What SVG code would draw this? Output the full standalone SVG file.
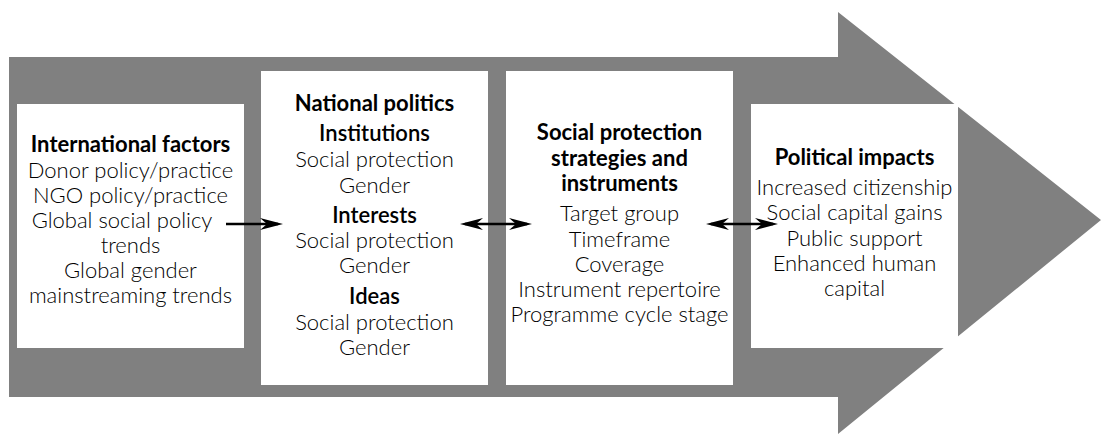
<svg xmlns="http://www.w3.org/2000/svg" width="1101" height="436" viewBox="0 0 1101 436">
<style>
  .bg { fill: #ffffff; }
  .big { fill: #808080; }
  .box { fill: #ffffff; }
  text { font-family: "Lato", "Open Sans", "Liberation Sans", sans-serif; font-size: 22px; text-anchor: middle; fill: #000; }
  .h { font-weight: bold; }
  .s { font-weight: 600; }
  .b { font-weight: 300; }
  .conn { stroke: #000; stroke-width: 2.5; fill: none; }
</style>
<defs>
  <marker id="ah" viewBox="-23 -6 23 12" refX="-5" refY="0" markerWidth="23" markerHeight="12" markerUnits="userSpaceOnUse" orient="auto-start-reverse">
    <path d="M0,0 L-23,-6 L-16,0 L-23,6 Z" fill="#000"/>
  </marker>
</defs>
<rect class="bg" x="0" y="0" width="1101" height="436"/>
<polygon class="big" points="9,57 838,57 838,12 1101,220 838,434 838,397 9,397"/>

<g id="international">
  <rect class="box" x="17" y="104" width="227" height="244"/>
  <text class="h" x="130.5" y="152">International factors</text>
  <text class="b" x="130.5" y="178">Donor policy/practice</text>
  <text class="b" x="130.5" y="203">NGO policy/practice</text>
  <text class="b" x="122" y="228">Global social policy</text>
  <text class="b" x="130.5" y="253">trends</text>
  <text class="b" x="130.5" y="278">Global gender</text>
  <text class="b" x="130.5" y="303">mainstreaming trends</text>
</g>

<g id="national">
  <rect class="box" x="261" y="71" width="227" height="314"/>
  <text class="h" x="374.5" y="111">National politics</text>
  <text class="s" x="374.5" y="141">Institutions</text>
  <text class="b" x="374.5" y="167">Social protection</text>
  <text class="b" x="374.5" y="193">Gender</text>
  <text class="s" x="374.5" y="223">Interests</text>
  <text class="b" x="374.5" y="248">Social protection</text>
  <text class="b" x="374.5" y="273">Gender</text>
  <text class="s" x="374.5" y="304">Ideas</text>
  <text class="b" x="374.5" y="330">Social protection</text>
  <text class="b" x="374.5" y="355">Gender</text>
</g>

<g id="strategies">
  <rect class="box" x="506" y="71" width="227" height="314"/>
  <text class="h" x="619.5" y="140">Social protection</text>
  <text class="h" x="619.5" y="166">strategies and</text>
  <text class="h" x="619.5" y="191">instruments</text>
  <text class="b" x="619.5" y="221">Target group</text>
  <text class="b" x="619.5" y="247">Timeframe</text>
  <text class="b" x="619.5" y="272">Coverage</text>
  <text class="b" x="619.5" y="297">Instrument repertoire</text>
  <text class="b" x="619.5" y="322">Programme cycle stage</text>
</g>

<g id="impacts">
  <rect class="box" x="751" y="104" width="207" height="244"/>
  <text class="h" x="854.5" y="165">Political impacts</text>
  <text class="b" x="854.5" y="195">Increased citizenship</text>
  <text class="b" x="854.5" y="220">Social capital gains</text>
  <text class="b" x="854.5" y="246">Public support</text>
  <text class="b" x="854.5" y="271">Enhanced human</text>
  <text class="b" x="854.5" y="296">capital</text>
</g>

<g id="connectors">
  <line class="conn" x1="226" y1="224" x2="278" y2="224" marker-end="url(#ah)"/>
  <line class="conn" x1="465" y1="224" x2="527" y2="224" marker-start="url(#ah)" marker-end="url(#ah)"/>
  <line class="conn" x1="711" y1="224" x2="773" y2="224" marker-start="url(#ah)" marker-end="url(#ah)"/>
</g>
</svg>
